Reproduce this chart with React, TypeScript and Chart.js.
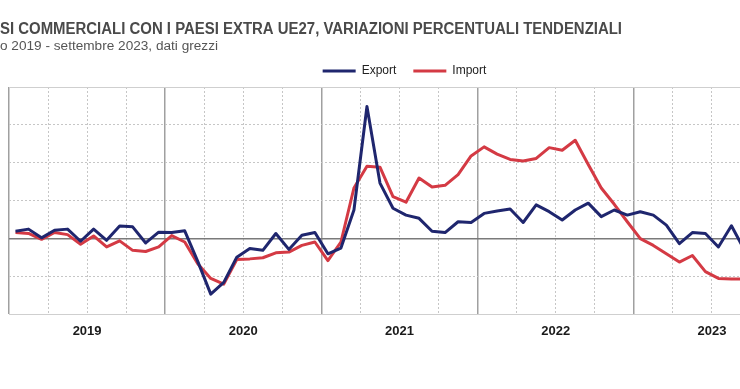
import React, { useEffect, useRef } from 'react';
import { Chart, registerables } from 'chart.js';

Chart.register(...registerables);

const TITLE = 'SI COMMERCIALI CON I PAESI EXTRA UE27, VARIAZIONI PERCENTUALI TENDENZIALI';
const SUBTITLE = 'o 2019 - settembre 2023, dati grezzi';

const yearLabels = ['2019', '2020', '2021', '2022', '2023'];
const seriesNames = ['Export', 'Import'];

// Gennaio 2019 - Settembre 2023, variazioni % tendenziali
const exportValues = [
  3.9, 5.0, 0.4, 4.4, 5.0, -1.4, 5.0, -0.9, 6.6, 6.2, -2.3, 3.4,
  3.2, 4.1, -12.0, -29.3, -23.1, -9.8, -5.2, -6.2, 2.7, -5.7, 1.8, 3.2,
  -8.0, -5.0, 15.1, 69.7, 29.3, 16.0, 12.4, 10.7, 3.9, 3.2, 8.9, 8.5,
  13.3, 14.6, 15.6, 8.5, 17.8, 14.2, 9.8, 15.1, 18.7, 11.6, 15.1, 12.4,
  14.2, 12.4, 7.1, -2.7, 3.2, 2.7, -4.4, 6.8, -6.0,
];
const importValues = [
  3.2, 2.7, -0.4, 3.2, 2.1, -3.0, 1.4, -4.4, -1.2, -6.2, -6.8, -4.4,
  1.6, -1.8, -13.3, -21.0, -24.0, -11.0, -10.7, -10.1, -7.5, -7.1, -3.6, -1.8,
  -11.6, -1.8, 26.7, 38.2, 37.7, 22.2, 19.2, 32.0, 27.2, 28.1, 33.8, 43.6,
  48.4, 44.6, 41.8, 40.9, 42.3, 48.0, 46.6, 51.9, 39.1, 26.7, 18.1, 8.9,
  0.0, -3.6, -8.0, -12.4, -8.9, -17.4, -21.0, -21.3, -21.3,
];
const yTicks = [-40, -20, 0, 20, 40, 60, 80];

const FONT = '"Liberation Sans", Arial, sans-serif';

function drawFitted(ctx: CanvasRenderingContext2D, text: string, font: string, color: string, x: number, y: number, width: number) {
  ctx.save();
  ctx.font = font;
  ctx.fillStyle = color;
  ctx.textAlign = 'left';
  ctx.textBaseline = 'alphabetic';
  const w = ctx.measureText(text).width;
  ctx.translate(x, y);
  ctx.scale(width / w, 1);
  ctx.fillText(text, 0, 0);
  ctx.restore();
}

const headerPlugin = {
  id: 'header',
  afterDraw(chart: any) {
    const ctx = chart.ctx as CanvasRenderingContext2D;
    drawFitted(ctx, TITLE, `bold 16px ${FONT}`, '#4a4a4a', 0, 33.5, 622);
    drawFitted(ctx, SUBTITLE, `12.5px ${FONT}`, '#555555', 0, 49.5, 218);
  },
};

export default function App() {
  const ref = useRef<HTMLCanvasElement | null>(null);

  useEffect(() => {
    if (!ref.current) return;
    const toPoints = (arr: number[]) => arr.map((v, i) => ({ x: i + 0.5, y: v }));
    const chart = new Chart(ref.current, {
      type: 'line',
      data: {
        datasets: [
          {
            label: seriesNames[0],
            data: toPoints(exportValues),
            borderColor: '#1f266e',
            backgroundColor: '#1f266e',
            borderWidth: 3,
            borderJoinStyle: 'round',
            pointRadius: 0,
            tension: 0,
          },
          {
            label: seriesNames[1],
            data: toPoints(importValues),
            borderColor: '#d43a44',
            backgroundColor: '#d43a44',
            borderWidth: 3,
            borderJoinStyle: 'round',
            pointRadius: 0,
            tension: 0,
          },
        ],
      },
      options: {
        responsive: false,
        animation: false,
        devicePixelRatio: 1,
        layout: { padding: { left: 7, right: 0, top: 48, bottom: 41 } },
        plugins: {
          legend: {
            position: 'top',
            align: 'center',
            labels: {
              boxWidth: 33,
              boxHeight: 3,
              padding: 17,
              color: '#222222',
              font: { family: FONT, size: 12 },
              generateLabels: (c: any) =>
                Chart.defaults.plugins.legend.labels.generateLabels(c).map((l: any) => ({
                  ...l,
                  lineWidth: 0,
                  fillStyle: l.strokeStyle,
                })),
            },
          },
          tooltip: { enabled: false },
          title: { display: false },
        },
        scales: {
          x: {
            type: 'linear',
            min: 0,
            max: 60,
            position: 'bottom',
            afterBuildTicks: (scale: any) => {
              scale.ticks = Array.from({ length: 21 }, (_, i) => ({ value: i * 3 }));
            },
            ticks: {
              autoSkip: false,
              maxRotation: 0,
              padding: 9,
              color: '#1a1a1a',
              font: { family: FONT, size: 13, weight: 'bold' },
              callback: (value: any) => {
                const v = Number(value);
                return v % 12 === 6 ? yearLabels[(v - 6) / 12] : '';
              },
            },
            grid: {
              drawTicks: false,
              color: (c: any) => (c.tick && c.tick.value % 12 === 0 ? '#a0a0a0' : '#c6c6c6'),
              lineWidth: (c: any) => (c.tick && c.tick.value % 12 === 0 ? 1.5 : 1),
            },
            border: {
              display: false,
              dash: (c: any) => (c.tick && c.tick.value % 12 !== 0 ? [2, 2] : []),
            },
          },
          y: {
            type: 'linear',
            position: 'right',
            min: -40,
            max: 80,
            afterBuildTicks: (scale: any) => {
              scale.ticks = yTicks.map((v) => ({ value: v }));
            },
            afterFit: (scale: any) => {
              scale.width = 12;
            },
            ticks: { display: false },
            grid: {
              drawTicks: false,
              color: (c: any) => {
                const v = c.tick ? c.tick.value : null;
                if (v === 0) return '#7a7a7a';
                if (v === -40 || v === 80) return '#cfcfcf';
                return '#c6c6c6';
              },
              lineWidth: (c: any) => (c.tick && c.tick.value === 0 ? 1.5 : 1),
            },
            border: {
              display: false,
              dash: (c: any) => {
                const v = c.tick ? c.tick.value : null;
                return v === null || v === 0 || v === -40 || v === 80 ? [] : [2, 2];
              },
            },
          },
        },
      },
      plugins: [headerPlugin],
    } as any);
    return () => chart.destroy();
  }, []);

  return (
    <div style={{ position: 'absolute', left: 0, top: 0, width: 740, height: 389, overflow: 'hidden', background: '#ffffff' }}>
      <canvas ref={ref} width={802} height={389} style={{ display: 'block', width: 802, height: 389 }} />
    </div>
  );
}
